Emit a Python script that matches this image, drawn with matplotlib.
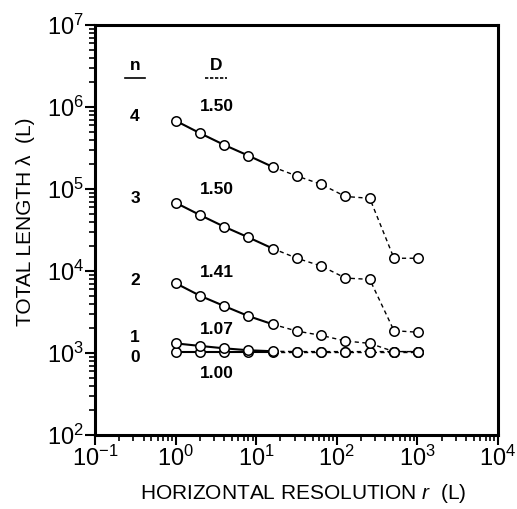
import matplotlib
matplotlib.use("Agg")
import matplotlib.pyplot as plt

plt.rcParams['font.family'] = ['Liberation Sans', 'DejaVu Sans']
plt.rcParams['mathtext.fontset'] = 'custom'
plt.rcParams['mathtext.rm'] = 'Liberation Sans'
plt.rcParams['mathtext.it'] = 'Liberation Sans:italic'

# resolution r (L) and total length lambda (L) for each generation n
r = [1, 2, 4, 8, 16, 32, 64, 128, 256, 512, 1024]
lam_n4 = [6.8e5, 4.8e5, 3.45e5, 2.55e5, 1.86e5, 1.44e5, 1.14e5, 8.1e4, 7.7e4, 1.43e4, 1.43e4]
lam_n3 = [6.8e4, 4.82e4, 3.47e4, 2.57e4, 1.88e4, 1.43e4, 1.15e4, 8.2e3, 7.9e3, 1.87e3, 1.79e3]
lam_n2 = [7.1e3, 5.0e3, 3.74e3, 2.82e3, 2.24e3, 1.85e3, 1.64e3, 1.40e3, 1.31e3, 1.04e3, 1.04e3]
lam_n1 = [1310, 1220, 1140, 1080, 1050, 1040, 1040, 1040, 1040, 1040, 1040]
lam_n0 = [1040, 1040, 1040, 1040, 1040, 1040, 1040, 1040, 1040, 1040, 1040]
series = [lam_n0, lam_n1, lam_n2, lam_n3, lam_n4]

n_labels = ["4", "3", "2", "1", "0"]
d_labels = ["1.50", "1.50", "1.41", "1.07", "1.00"]

fig = plt.figure(figsize=(5.17, 5.09), dpi=100)
ax = fig.add_axes([0.1838, 0.1454, 0.7795, 0.8055])

k = 5  # solid up to r=16, dashed beyond
for lam in series:
    ax.plot(r[:k], lam[:k], color='black', lw=1.5, zorder=2)
    ax.plot(r[k - 1:], lam[k - 1:], color='black', lw=1.0, ls=(0, (3, 2.5)), zorder=2)
    ax.plot(r, lam, ls='none', marker='o', ms=6.8, mfc='white', mec='black', mew=1.1, zorder=3)

ax.set_xscale('log')
ax.set_yscale('log')
ax.set_xlim(0.1, 1e4)
ax.set_ylim(1e2, 1e7)

for s in ax.spines.values():
    s.set_linewidth(2.2)
ax.tick_params(which='major', direction='out', length=7, width=1.5, labelsize=17, pad=1)
ax.tick_params(which='minor', direction='out', length=4, width=1.2)

ax.set_xlabel('HORIZONTAL RESOLUTION $r$  (L)', fontsize=15)
ax.set_ylabel('TOTAL LENGTH \u03bb  (L)', fontsize=15)
ax.xaxis.set_label_coords(0.516, -0.115)
ax.yaxis.set_label_coords(-0.15, 0.52)

# column headers
ax.text(0.0993, 0.902, 'n', transform=ax.transAxes, ha='center', va='center', fontsize=12.5, fontweight='bold')
ax.text(0.3015, 0.902, 'D', transform=ax.transAxes, ha='center', va='center', fontsize=12.5, fontweight='bold')
ax.plot([0.074, 0.124], [0.871, 0.871], transform=ax.transAxes, color='black', lw=1.2)
ax.plot([0.273, 0.328], [0.871, 0.871], transform=ax.transAxes, color='black', lw=1.2, ls=(0, (2, 1)))

n_y = [0.778, 0.578, 0.378, 0.239, 0.188]
d_y = [0.800, 0.598, 0.396, 0.2585, 0.149]
for lab, y in zip(n_labels, n_y):
    ax.text(0.0993, y, lab, transform=ax.transAxes, ha='center', va='center', fontsize=12.5, fontweight='bold')
for lab, y in zip(d_labels, d_y):
    ax.text(0.3015, y, lab, transform=ax.transAxes, ha='center', va='center', fontsize=12.5, fontweight='bold')

fig.savefig('out.png', dpi=100)
